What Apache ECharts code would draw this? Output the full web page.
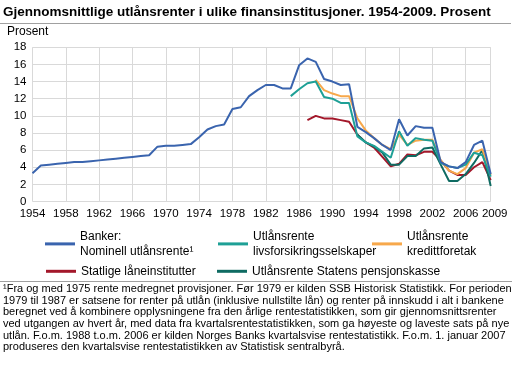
<!DOCTYPE html>
<html>
<head>
<meta charset="utf-8">
<script src="https://cdn.jsdelivr.net/npm/echarts@6/dist/echarts.min.js"></script>
<style>html,body{margin:0;padding:0;background:#fff}#c{width:512px;height:369px}</style>
</head>
<body>
<div id="c"></div>
<script>
var years = [];
for (var y = 1954; y <= 2009; y++) years.push(String(y));

var banker = [3.3,4.2,4.3,4.4,4.5,4.6,4.6,4.7,4.8,4.9,5.0,5.1,5.2,5.3,5.4,6.4,6.5,6.5,6.6,6.7,7.5,8.4,8.8,9.0,10.8,11.0,12.3,13.0,13.6,13.6,13.2,13.2,15.9,16.7,16.3,14.3,14.0,13.6,13.7,8.7,8.1,7.4,6.6,6.0,9.6,7.7,8.8,8.6,8.6,4.6,4.1,3.9,4.6,6.6,7.1,3.2];
var livsStart = 1985;
var livs = [12.3,13.1,13.8,14.0,12.2,12.0,11.5,11.5,7.6,6.9,6.5,5.8,5.1,8.2,6.5,7.4,7.2,7.1,4.5,4.1,3.9,4.3,5.7,5.4,2.9];
var kredittStart = 1988;
var kreditt = [14.2,13.0,12.6,12.3,12.3,9.7,8.3,7.4,6.6,6.1,7.8,6.6,7.1,7.2,7.2,4.8,3.6,3.2,3.9,5.7,6.1,3.1];
var statligeStart = 1987;
var statlige = [9.5,10.0,9.7,9.7,9.5,9.3,7.8,6.9,6.3,5.2,4.1,4.4,5.5,5.4,5.8,5.8,4.8,3.6,3.1,3.1,4.0,4.6,2.5];
var pensjonStart = 1993;
var pensjon = [7.8,6.9,6.4,5.7,4.3,4.3,5.3,5.3,6.2,6.3,4.3,2.4,2.4,3.2,4.5,6.0,1.8];

var names = ['Banker:\nNominell utlånsrente\u00b9','Utlånsrente\nlivsforsikringsselskaper','Utlånsrente\nkredittforetak','Statlige låneinstitutter','Utlånsrente Statens pensjonskasse'];
var colors = ['#3a64ae','#1ea096','#f7a84b','#a3172a','#0f6b62'];

function pad(start, arr) {
  var out = [];
  for (var i = 0; i < start - 1954; i++) out.push(null);
  return out.concat(arr);
}

var FONT = 'Liberation Sans, Arial, sans-serif';
var footnote = '\u00b9Fra og med 1975 rente medregnet provisjoner. Før 1979 er kilden SSB Historisk Statistikk. For perioden\n' +
 '1979 til 1987 er satsene for renter på utlån (inklusive nullstilte lån) og renter på innskudd i alt i bankene\n' +
 'beregnet ved å kombinere opplysningene fra den årlige rentestatistikken, som gir gjennomsnittsrenter\n' +
 'ved utgangen av hvert år, med data fra kvartalsrentestatistikken, som ga høyeste og laveste sats på nye\n' +
 'utlån. F.o.m. 1988 t.o.m. 2006 er kilden Norges Banks kvartalsvise rentestatistikk. F.o.m. 1. januar 2007\n' +
 'produseres den kvartalsvise rentestatistikken av Statistisk sentralbyrå.';

var tickFn = function (i) { return i % 4 === 0 || i === years.length - 1; };

function mkLegend(name, left, top, twoLine) {
  return {
    data: [name], left: left, top: top, padding: 0, orient: 'horizontal',
    icon: 'rect', itemWidth: 30, itemHeight: 3, itemGap: 0, selectedMode: false,
    textStyle: { fontFamily: FONT, fontSize: 12, color: '#000', lineHeight: 14.6,
      padding: twoLine ? [14.6, 0, 0, 0] : 0 }
  };
}

var seriesData = [banker, pad(livsStart, livs), pad(kredittStart, kreditt), pad(statligeStart, statlige), pad(pensjonStart, pensjon)];
var order = [3, 4, 2, 1, 0];
var series = order.map(function (k) {
  return {
    name: names[k], type: 'line', data: seriesData[k], showSymbol: false, symbol: 'none',
    lineStyle: { color: colors[k], width: 2 }, itemStyle: { color: colors[k] },
    connectNulls: false, animation: false
  };
});

var chart = echarts.init(document.getElementById('c'), null, { renderer: 'canvas' });
chart.setOption({
  animation: false,
  title: { text: 'Gjennomsnittlige utlånsrenter i ulike finansinstitusjoner. 1954-2009. Prosent',
    left: 3, top: 5, padding: 0,
    textStyle: { fontFamily: FONT, fontSize: 13.5, fontWeight: 'bold', color: '#000' } },
  grid: { left: 32.5, right: 21.3, top: 47.3, bottom: 167.5, containLabel: false, outerBoundsMode: 'none' },
  xAxis: {
    type: 'category', data: years, boundaryGap: false,
    axisLine: { show: false }, axisTick: { show: false },
    axisLabel: { interval: tickFn, fontFamily: FONT, fontSize: 11.5, color: '#000', margin: 6,
      formatter: function (v, i) { return i === years.length - 1 ? '{last|' + v + '}' : v; },
      rich: { last: { fontFamily: FONT, fontSize: 11.5, color: '#000', padding: [0, 0, 0, 8] } } },
    splitLine: { show: true, interval: tickFn, lineStyle: { color: '#d9d9d9', width: 1 } }
  },
  yAxis: {
    type: 'value', min: 0, max: 18, interval: 2,
    axisLine: { show: false }, axisTick: { show: false },
    axisLabel: { fontFamily: FONT, fontSize: 11.5, color: '#000', margin: 6 },
    splitLine: { lineStyle: { color: '#d9d9d9', width: 1 } }
  },
  legend: [
    mkLegend(names[0], 45, 222, true),
    mkLegend(names[1], 218, 222, true),
    mkLegend(names[2], 372, 222, true),
    mkLegend(names[3], 46, 264, false),
    mkLegend(names[4], 217, 264, false)
  ],
  graphic: [
    { type: 'line', shape: { x1: 0, y1: 23.5, x2: 511, y2: 23.5 }, style: { stroke: '#a0a0a0', lineWidth: 1 } },
    { type: 'text', left: 7, top: 26, style: { text: 'Prosent', font: '12px ' + FONT, fill: '#000' } },
    { type: 'line', shape: { x1: 0, y1: 281.5, x2: 512, y2: 281.5 }, style: { stroke: '#a0a0a0', lineWidth: 1 } },
    { type: 'text', left: 3, top: 283, style: { text: footnote, font: '11px ' + FONT, fill: '#000', lineHeight: 11.7 } }
  ],
  series: series
});
</script>
</body>
</html>
